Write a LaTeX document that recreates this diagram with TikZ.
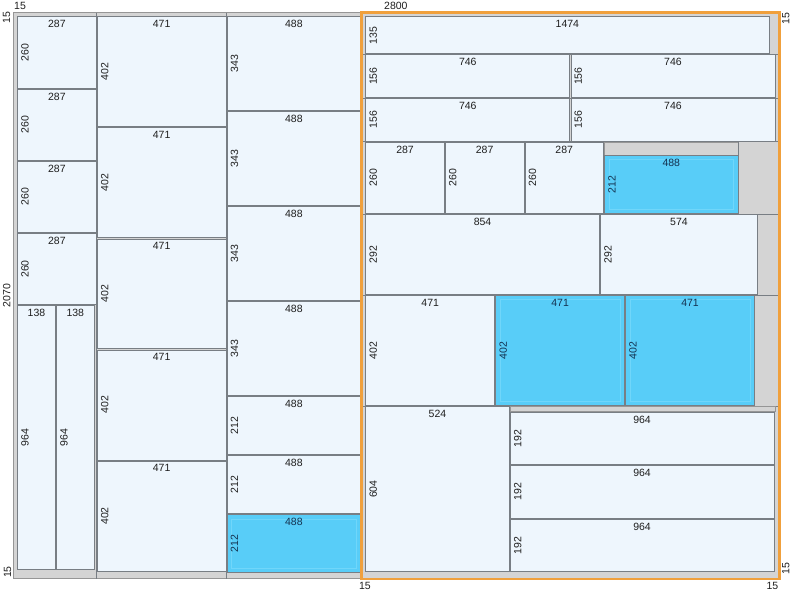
\documentclass[tikz,border=0pt]{standalone}
\usepackage{fontspec}
\setmainfont{Liberation Sans}

\definecolor{partfill}{RGB}{238,246,253}
\definecolor{pickfill}{RGB}{88,205,248}
\definecolor{pickrim}{RGB}{112,214,250}
\definecolor{wastefill}{RGB}{212,212,212}
\definecolor{cutline}{RGB}{120,126,132}
\definecolor{boardedge}{RGB}{150,150,150}
\definecolor{frameorange}{RGB}{240,160,60}
\definecolor{picktext}{RGB}{20,50,80}

\tikzset{
  part/.style={fill=partfill, draw=cutline, line width=0.7pt},
  picked/.style={fill=pickfill, draw=cutline, line width=0.7pt},
  waste/.style={fill=wastefill, draw=boardedge, line width=0.7pt},
  part lab/.style={text=black!88},
  picked lab/.style={text=picktext},
  numfont/.style={inner sep=0pt, font=\fontsize{10.5}{12}\selectfont},
  wlab/.style={numfont, anchor=north},
  hlab/.style={numfont, rotate=90, anchor=north},
  dimlab/.style={numfont, text=black!88}
}

% \piece{x}{y}{width}{height}, in mm, y going down
\newcommand{\piece}[4]{%
  \draw[part] (#1,#2) rectangle ++(#3,#4);
  \node[wlab, part lab] at ({#1+#3/2},{#2+13}) {#3};
  \node[hlab, part lab] at ({#1+13},{#2+#4/2}) {#4};
}
% same, for a picked part with its light rim
\newcommand{\pickedpiece}[4]{%
  \draw[picked] (#1,#2) rectangle ++(#3,#4);
  \draw[pickrim, line width=0.8pt] ({#1+16},{#2+16}) rectangle ++({#3-32},{#4-32});
  \node[wlab, picked lab] at ({#1+#3/2},{#2+13}) {#3};
  \node[hlab, picked lab] at ({#1+13},{#2+#4/2}) {#4};
}

\begin{document}
\begin{tikzpicture}[x=0.2735pt, y=-0.2735pt]
\useasboundingbox (-49.4,-46.4) rectangle (2872,2140);
% board and strip cuts
\draw[waste] (0,0) rectangle (2800,2070);
\draw[cutline, line width=0.9pt] (304,0) -- (304,2070);
\draw[cutline, line width=0.9pt] (779,0) -- (779,2070);
\draw[cutline, line width=0.9pt] (1271,0) -- (1271,2070);
\draw[cutline, line width=0.7pt] (1273,152) -- (2800,152);
\draw[cutline, line width=0.7pt] (1273,312) -- (2800,312);
\draw[cutline, line width=0.7pt] (1273,472) -- (2800,472);
\draw[cutline, line width=0.7pt] (1273,736) -- (2800,736);
\draw[cutline, line width=0.7pt] (1273,1032) -- (2800,1032);
\draw[cutline, line width=0.7pt] (1273,1438) -- (2800,1438);
\draw[waste] (2161,474) rectangle (2651,522);
\draw[cutline, line width=0.7pt] (2651,472) -- (2651,736);
\draw[waste] (1816,1440) rectangle (2784,1456);
% first strip
\piece{15}{15}{287}{260}
\piece{15}{279}{287}{260}
\piece{15}{543}{287}{260}
\piece{15}{807}{287}{260}
\piece{15}{1071}{138}{964}
\piece{157}{1071}{138}{964}
% second strip
\piece{306}{15}{471}{402}
\piece{306}{421}{471}{402}
\piece{306}{827}{471}{402}
\piece{306}{1233}{471}{402}
\piece{306}{1639}{471}{402}
% third strip
\piece{781}{15}{488}{343}
\piece{781}{362}{488}{343}
\piece{781}{709}{488}{343}
\piece{781}{1056}{488}{343}
\piece{781}{1403}{488}{212}
\piece{781}{1619}{488}{212}
\pickedpiece{781}{1835}{488}{212}
% last strip
\piece{1288}{15}{1474}{135}
\piece{1288}{154}{746}{156}
\piece{2038}{154}{746}{156}
\piece{1288}{314}{746}{156}
\piece{2038}{314}{746}{156}
\piece{1288}{474}{287}{260}
\piece{1579}{474}{287}{260}
\piece{1870}{474}{287}{260}
\pickedpiece{2161}{522}{488}{212}
\piece{1288}{738}{854}{292}
\piece{2146}{738}{574}{292}
\piece{1288}{1034}{471}{402}
\pickedpiece{1763}{1034}{471}{402}
\pickedpiece{2238}{1034}{471}{402}
\piece{1288}{1440}{524}{604}
\piece{1816}{1460}{964}{192}
\piece{1816}{1656}{964}{192}
\piece{1816}{1852}{964}{192}
% selected strip
\draw[frameorange, line width=2.4pt] (1273,0) rectangle (2800,2070);
% trims and sizes
\node[dimlab] at (24,-24.5) {15};
\node[dimlab] at (1398,-24.5) {2800};
\node[dimlab, rotate=90] at (-25,19) {15};
\node[dimlab, rotate=90] at (-25,1035) {2070};
\node[dimlab, rotate=90] at (-22,2045) {15};
\node[dimlab, rotate=90] at (2824,23) {15};
\node[dimlab, rotate=90] at (2824,2034) {15};
\node[dimlab] at (1285,2096) {15};
\node[dimlab] at (2775,2096) {15};
\end{tikzpicture}
\end{document}
